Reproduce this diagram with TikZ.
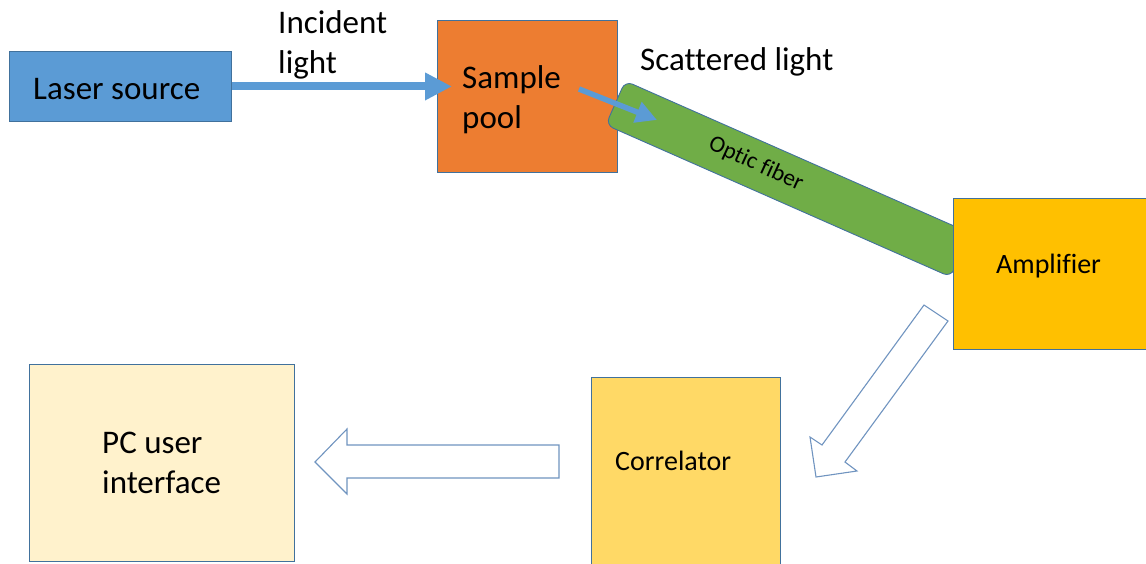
\documentclass[tikz,border=0pt]{standalone}
\usepackage{fontspec}
\setmainfont[Ligatures=NoCommon]{Carlito}
\usetikzlibrary{arrows.meta}

\definecolor{laserblue}{HTML}{5B9BD5}
\definecolor{edgeblue}{HTML}{41719C}
\definecolor{poolorange}{HTML}{ED7D31}
\definecolor{fibergreen}{HTML}{70AD47}
\definecolor{ampgold}{HTML}{FFC000}
\definecolor{corrgold}{HTML}{FFD966}
\definecolor{pccream}{HTML}{FFF2CC}
\definecolor{hollowedge}{HTML}{7094C0}

\begin{document}
\begin{tikzpicture}[x=1pt,y=-1pt,
  block/.style={draw=edgeblue, line width=0.9pt, anchor=north west, inner sep=0pt},
  bigtext/.style={font=\fontsize{33}{40}\selectfont, inner sep=0pt, anchor=base west, align=left},
  midtext/.style={font=\fontsize{28}{33}\selectfont, inner sep=0pt, anchor=base west},
  beam/.style={draw=laserblue, line width=8pt, -{Triangle[length=27pt,width=26pt]}},
  thinbeam/.style={draw=laserblue, line width=5.5pt, -{Triangle[length=21pt,width=21pt]}},
  fiberbar/.style={draw=edgeblue, fill=fibergreen, line width=0.9pt, rounded corners=8pt, inner sep=0pt},
  hollow/.style={draw=hollowedge, fill=white, line width=1.1pt, line join=miter}
]
\useasboundingbox (0,0) rectangle (1146,563);

% source and sample cell (two-line labels are anchored at their last baseline)
\node[block, fill=laserblue, minimum width=222pt, minimum height=70pt] (laser) at (9,51) {};
\node[bigtext] (lasertext) at (33,99) {Laser source};
\node[block, fill=poolorange, minimum width=180pt, minimum height=152pt] (pool) at (437,20) {};
\node[bigtext] (pooltext) at (462,128) {Sample\\pool};

% incident beam
\draw[beam] (laser.east) -- ([xshift=15pt]laser.east -| pool.west);
\node[bigtext] (inctext) at (278,73) {Incident\\light};

% fibre towards the amplifier
\node[fiberbar, minimum width=377pt, minimum height=48pt, rotate=-23.8] (fiber) at (788,179) {};
\node[font=\fontsize{23.5}{28}\selectfont, inner sep=0pt, rotate=-24.5] (fibertext) at (756,164) {Optic fiber};
\node[bigtext] (scattext) at (640,70) {Scattered light};

% scattered beam entering the fibre
\coordinate (scatA) at (579,89);
\coordinate (scatB) at (657,120);
\draw[thinbeam] (scatA) -- (scatB);

% amplifier
\node[block, fill=ampgold, minimum width=194pt, minimum height=151pt] (amp) at (953,198) {};
\node[midtext] (amptext) at (996,273) {Amplifier};

% correlator and PC
\node[block, fill=corrgold, minimum width=189pt, minimum height=200pt] (corr) at (591,377) {};
\node[midtext] (corrtext) at (615,470) {Correlator};
\node[block, fill=pccream, minimum width=265pt, minimum height=197pt] (pc) at (29,364) {};
\node[bigtext] (pctext) at (102,493) {PC user\\interface};

% block arrows
\draw[hollow] (948,321) -- (845,462) -- (857,471) -- (816,477) -- (810,437) -- (822,445) -- (924,305) -- cycle;
\draw[hollow] (559,445) -- (347,445) -- (347,429) -- (315,462) -- (347,494) -- (347,478) -- (559,478) -- cycle;
\end{tikzpicture}
\end{document}
